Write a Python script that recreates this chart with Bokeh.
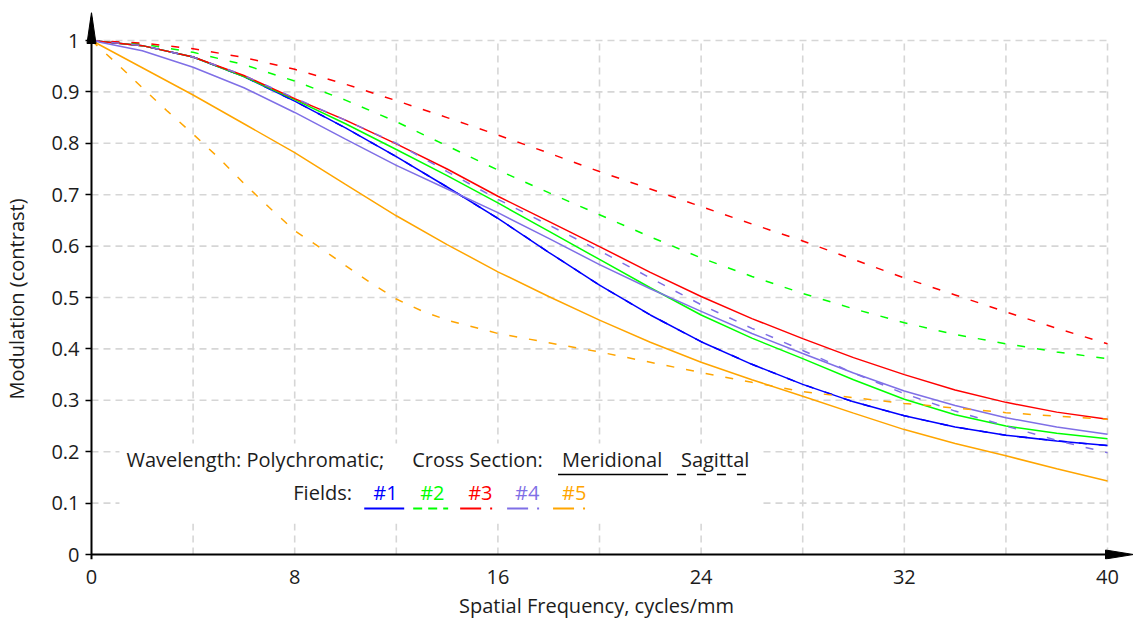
import math
from bokeh.plotting import figure
from bokeh.models import Range1d, FixedTicker
from bokeh.core.properties import value
from bokeh.embed import file_html
from bokeh.resources import INLINE

# ---------------- data ----------------
freq = [0, 2, 4, 6, 8, 10, 12, 14, 16, 18, 20, 22, 24, 26, 28, 30, 32, 34, 36, 38, 40]

field1_tan = [1.0, 0.99, 0.968, 0.93, 0.882, 0.83, 0.774, 0.715, 0.654, 0.588, 0.524,
              0.466, 0.414, 0.37, 0.331, 0.297, 0.27, 0.248, 0.232, 0.221, 0.212]
field1_sag = [1.0, 0.99, 0.968, 0.93, 0.882, 0.83, 0.774, 0.715, 0.654, 0.588, 0.524,
              0.466, 0.414, 0.37, 0.331, 0.297, 0.27, 0.248, 0.232, 0.221, 0.212]
field2_tan = [1.0, 0.99, 0.968, 0.93, 0.885, 0.838, 0.788, 0.737, 0.684, 0.629, 0.574,
              0.519, 0.466, 0.421, 0.381, 0.34, 0.302, 0.272, 0.25, 0.236, 0.225]
field2_sag = [1.0, 0.993, 0.977, 0.953, 0.921, 0.884, 0.842, 0.795, 0.748, 0.704, 0.661,
              0.618, 0.577, 0.541, 0.508, 0.478, 0.451, 0.428, 0.41, 0.394, 0.381]
field3_tan = [1.0, 0.99, 0.968, 0.932, 0.887, 0.845, 0.799, 0.75, 0.697, 0.648, 0.599,
              0.549, 0.502, 0.459, 0.42, 0.383, 0.35, 0.32, 0.296, 0.277, 0.263]
field3_sag = [1.0, 0.995, 0.984, 0.967, 0.944, 0.915, 0.883, 0.85, 0.816, 0.781, 0.745,
              0.711, 0.677, 0.643, 0.61, 0.574, 0.538, 0.505, 0.472, 0.44, 0.41]
field4_tan = [1.0, 0.98, 0.948, 0.908, 0.86, 0.808, 0.757, 0.711, 0.665, 0.615, 0.564,
              0.517, 0.473, 0.43, 0.391, 0.353, 0.318, 0.29, 0.266, 0.248, 0.234]
field4_sag = [1.0, 0.99, 0.968, 0.932, 0.888, 0.845, 0.80, 0.745, 0.691, 0.641, 0.591,
              0.538, 0.486, 0.44, 0.397, 0.353, 0.313, 0.279, 0.25, 0.222, 0.198]
field5_tan = [1.0, 0.947, 0.894, 0.838, 0.782, 0.72, 0.659, 0.603, 0.55, 0.502, 0.456,
              0.413, 0.374, 0.34, 0.308, 0.275, 0.243, 0.216, 0.192, 0.167, 0.143]
freq5_sag = [0, 1, 2, 3, 4, 5, 6, 7, 8, 9, 10, 11, 12, 13, 14, 16, 18, 20, 22, 24, 26,
             28, 30, 32, 34, 36, 38, 40]
field5_sag = [1.0, 0.955, 0.908, 0.862, 0.818, 0.772, 0.722, 0.675, 0.63, 0.597, 0.562,
              0.528, 0.497, 0.474, 0.456, 0.43, 0.412, 0.394, 0.374, 0.354, 0.335,
              0.317, 0.305, 0.294, 0.285, 0.276, 0.269, 0.263]

field_names = ["#1", "#2", "#3", "#4", "#5"]
field_colors = ["#0000FF", "#00FF00", "#FF0000", "#7F6FE6", "#FFA500"]

x_ticks = [0, 8, 16, 24, 32, 40]
x_tick_labels = ["0", "8", "16", "24", "32", "40"]
x_grid = [4, 8, 12, 16, 20, 24, 28, 32, 36, 40]
y_ticks = [0.0, 0.1, 0.2, 0.3, 0.4, 0.5, 0.6, 0.7, 0.8, 0.9, 1.0]
y_tick_labels = ["0", "0.1", "0.2", "0.3", "0.4", "0.5", "0.6", "0.7", "0.8", "0.9", "1"]

x_title = "Spatial Frequency, cycles/mm"
y_title = "Modulation (contrast)"

# ---------------- layout (pixels) ----------------
W, H = 1133, 623
X0_PX, X40_PX = 90, 1107      # px of x=0 and x=40
Y0_PX, Y1_PX = 554, 40        # px of y=0 and y=1
TOP = 12                      # tip of the y arrow
LEFT_FRAME = 84               # frame starts a little left of x=0
BOTTOM_FRAME = 559            # and a little below y=0
PPX = (X40_PX - X0_PX) / 40.0
PPY = (Y0_PX - Y1_PX) / 1.0
x_start = -(X0_PX - LEFT_FRAME) / PPX
x_end = (W - X0_PX) / PPX
y_start = -(BOTTOM_FRAME - Y0_PX) / PPY
y_end = (Y0_PX - TOP) / PPY


def dx(px):
    return (px - X0_PX) / PPX


def dy(py):
    return (Y0_PX - py) / PPY


FONT = "Open Sans"
TXT = "#1c1c1c"
NB = "\u00a0"

p = figure(width=W, height=H, x_range=Range1d(x_start, x_end),
           y_range=Range1d(y_start, y_end),
           output_backend="svg", toolbar_location=None,
           min_border_left=LEFT_FRAME, min_border_right=0, min_border_top=TOP,
           min_border_bottom=H - BOTTOM_FRAME)
p.outline_line_color = None
p.background_fill_color = "white"
p.border_fill_color = "white"
p.xgrid.grid_line_color = None
p.ygrid.grid_line_color = None

# axes (lines drawn as glyphs below; the native axes carry ticks and labels)
for ax in (p.xaxis[0], p.yaxis[0]):
    ax.axis_line_color = None
    ax.major_tick_line_color = "black"
    ax.major_tick_line_width = 1.5
    ax.major_tick_out = 0
    ax.minor_tick_in = 0
    ax.minor_tick_out = 0
    ax.major_label_text_font = FONT
    ax.major_label_text_font_size = "20px"
    ax.major_label_text_color = TXT
    ax.axis_label_text_font = FONT
    ax.axis_label_text_font_size = "20px"
    ax.axis_label_text_font_style = "normal"
    ax.axis_label_text_color = TXT

p.xaxis.ticker = FixedTicker(ticks=x_ticks)
p.xaxis.major_label_overrides = {t: s for t, s in zip(x_ticks, x_tick_labels)}
p.xaxis.major_tick_in = 0
p.xaxis.major_label_standoff = 10
p.xaxis.axis_label = x_title + NB * 5
p.xaxis.axis_label_standoff = 5

p.yaxis.ticker = FixedTicker(ticks=y_ticks)
p.yaxis.major_label_overrides = {t: s for t, s in zip(y_ticks, y_tick_labels)}
p.yaxis.major_tick_in = X0_PX - LEFT_FRAME
p.yaxis.major_label_standoff = 6
p.yaxis.axis_label = y_title + NB * 5
p.yaxis.axis_label_standoff = 18

# grid (dashed, light grey)
grid_xs = [[g, g] for g in x_grid] + [[0, 40] for t in y_ticks[1:]]
grid_ys = [[0, 1] for g in x_grid] + [[t, t] for t in y_ticks[1:]]
p.multi_line(xs=grid_xs, ys=grid_ys, line_color="#d6d6d6", line_width=1.6,
             line_dash="7 5")

# legend background box (hides the grid)
p.quad(left=[dx(118)], right=[dx(760)], bottom=[dy(523)], top=[dy(443)],
       fill_color="white", line_color=None)

# curves
series = [
    (freq, field1_tan, field_colors[0], "solid"),
    (freq, field1_sag, field_colors[0], "8 12"),
    (freq, field2_tan, field_colors[1], "solid"),
    (freq, field2_sag, field_colors[1], "8 12"),
    (freq, field3_tan, field_colors[2], "solid"),
    (freq, field3_sag, field_colors[2], "8 12"),
    (freq, field4_tan, field_colors[3], "solid"),
    (freq, field4_sag, field_colors[3], "8 12"),
    (freq, field5_tan, field_colors[4], "solid"),
    (freq5_sag, field5_sag, field_colors[4], "8 12"),
]
for xs, ys, col, dash in series:
    p.line(xs, ys, line_color=col, line_width=1.5, line_dash=dash)

# axis lines and arrow heads
p.line([0, 0], [dy(559), y_end - 0.01], line_color="black", line_width=2)
p.line([0, x_end - 0.3], [0, 0], line_color="black", line_width=2)
p.patch([0, dx(X0_PX - 4.5), dx(X0_PX + 4.5)], [y_end, dy(43), dy(43)],
        fill_color="black", line_color="black", line_width=1)
p.patch([x_end, dx(1105), dx(1105)], [0, 4.5 / PPY, -4.5 / PPY],
        fill_color="black", line_color="black", line_width=1)

# legend texts
row1 = dy(459)
row2 = dy(492)
p.text(x=[dx(125), dx(411), dx(561), dx(680), dx(292)],
       y=[row1, row1, row1, row1, row2],
       text=["Wavelength: Polychromatic;", "Cross Section:", "Meridional", "Sagittal", "Fields:"],
       text_font=value(FONT), text_font_size="20px", text_color=TXT,
       text_baseline="middle", text_align="left")
p.line([dx(557), dx(667)], [dy(474)] * 2, line_color="black", line_width=1.6)
p.line([dx(676), dx(753)], [dy(474)] * 2, line_color="black", line_width=1.6,
       line_dash="9 11")

fx = [dx(372), dx(419), dx(467), dx(514), dx(561)]
p.text(x=fx, y=[row2] * 5, text=field_names, text_font=value(FONT),
       text_font_size="20px", text_color=field_colors, text_baseline="middle",
       text_align="left")
sample_x = [(363, 403), (412, 447), (459, 493), (506, 543), (552, 587)]
sample_dash = ["solid", "9 6", "21 9 2 9", "21 9 2 9", "21 9 2 9"]
for (a, b), col, dash in zip(sample_x, field_colors, sample_dash):
    p.line([dx(a), dx(b)], [dy(508)] * 2, line_color=col, line_width=2, line_dash=dash)

open("out.html", "w").write(file_html(p, INLINE))
